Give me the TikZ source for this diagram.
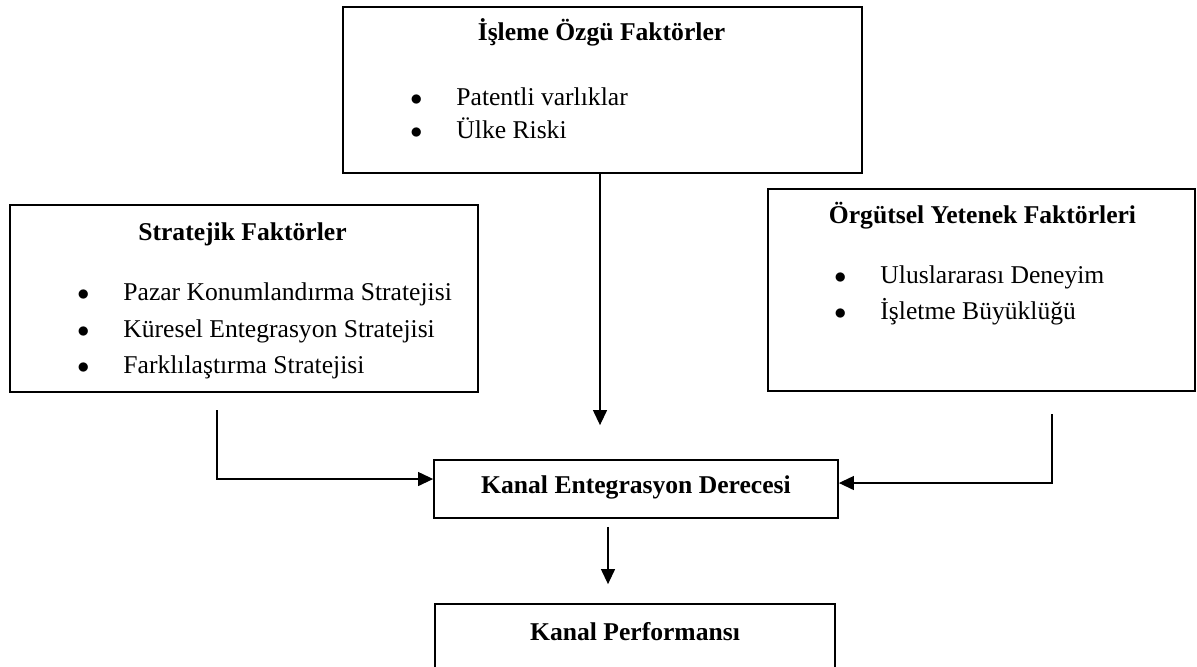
\documentclass[tikz,border=0pt]{standalone}
\usepackage{fontspec}
\setmainfont{Liberation Serif}
\usetikzlibrary{arrows.meta}
\newcommand{\madde}[1]{\makebox[23pt][l]{$\bullet$}#1}

\begin{document}
\begin{tikzpicture}[x=0.5pt,y=-0.5pt,>={Triangle[length=7.5pt,width=7pt]},
  every node/.style={font=\fontsize{12.8}{15}\selectfont}]
  \tikzstyle{box}=[draw,line width=0.9pt,inner sep=0pt]
  \tikzstyle{title}=[anchor=base,inner sep=0pt,font=\fontsize{12.8}{15}\selectfont\bfseries]
  \tikzstyle{item}=[anchor=base west,inner sep=0pt]
  \tikzstyle{arr}=[->,line width=0.6pt]
  \useasboundingbox (0,0) rectangle (1197,666);

  % kutular
  \node[box,minimum width=259.5pt,minimum height=83pt]  (isleme)  at (602.5,90)  {};
  \node[box,minimum width=234pt,minimum height=93.5pt]  (strat)   at (244,298.5) {};
  \node[box,minimum width=213.5pt,minimum height=101pt] (orgut)   at (981.5,290) {};
  \node[box,minimum width=202pt,minimum height=29pt]    (derece)  at (636,489)   {};
  \node[box,minimum width=200pt,minimum height=40pt]    (perf)    at (635,644)   {};

  % metinler
  \node[title] (islemeT) at (601.5,40) {İşleme Özgü Faktörler};
  \node[item]  (isleme1) at (410,105)  {\madde{Patentli varlıklar}};
  \node[item]  (isleme2) at (410,138)  {\madde{Ülke Riski}};

  \node[title] (stratT)  at (242.5,240) {Stratejik Faktörler};
  \node[item]  (strat1)  at (77,300)    {\madde{Pazar Konumlandırma Stratejisi}};
  \node[item]  (strat2)  at (77,337)    {\madde{Küresel Entegrasyon Stratejisi}};
  \node[item]  (strat3)  at (77,373)    {\madde{Farklılaştırma Stratejisi}};

  \node[title] (orgutT)  at (982.5,223) {Örgütsel Yetenek Faktörleri};
  \node[item]  (orgut1)  at (834,283)   {\madde{Uluslararası Deneyim}};
  \node[item]  (orgut2)  at (834,319)   {\madde{İşletme Büyüklüğü}};

  \node[title] (dereceT) at (636,493) {Kanal Entegrasyon Derecesi};
  \node[title] (perfT)   at (635,640) {Kanal Performansı};

  % oklar
  \coordinate (solcikis) at (217,410);
  \coordinate (sagcikis) at (1052,414);
  \draw[arr,shorten >=17pt] ([xshift=-1.25pt]isleme.south) -- ([xshift=-1.25pt]isleme.south |- derece.north);
  \draw[arr] (solcikis) |- ([yshift=5pt]derece.west);
  \draw[arr] (sagcikis) |- ([yshift=3pt]derece.east);
  \draw[arr,shorten <=4pt,shorten >=9.5pt] ([xshift=-14pt]derece.south) -- ([xshift=-14pt]derece.south |- perf.north);
\end{tikzpicture}
\end{document}
